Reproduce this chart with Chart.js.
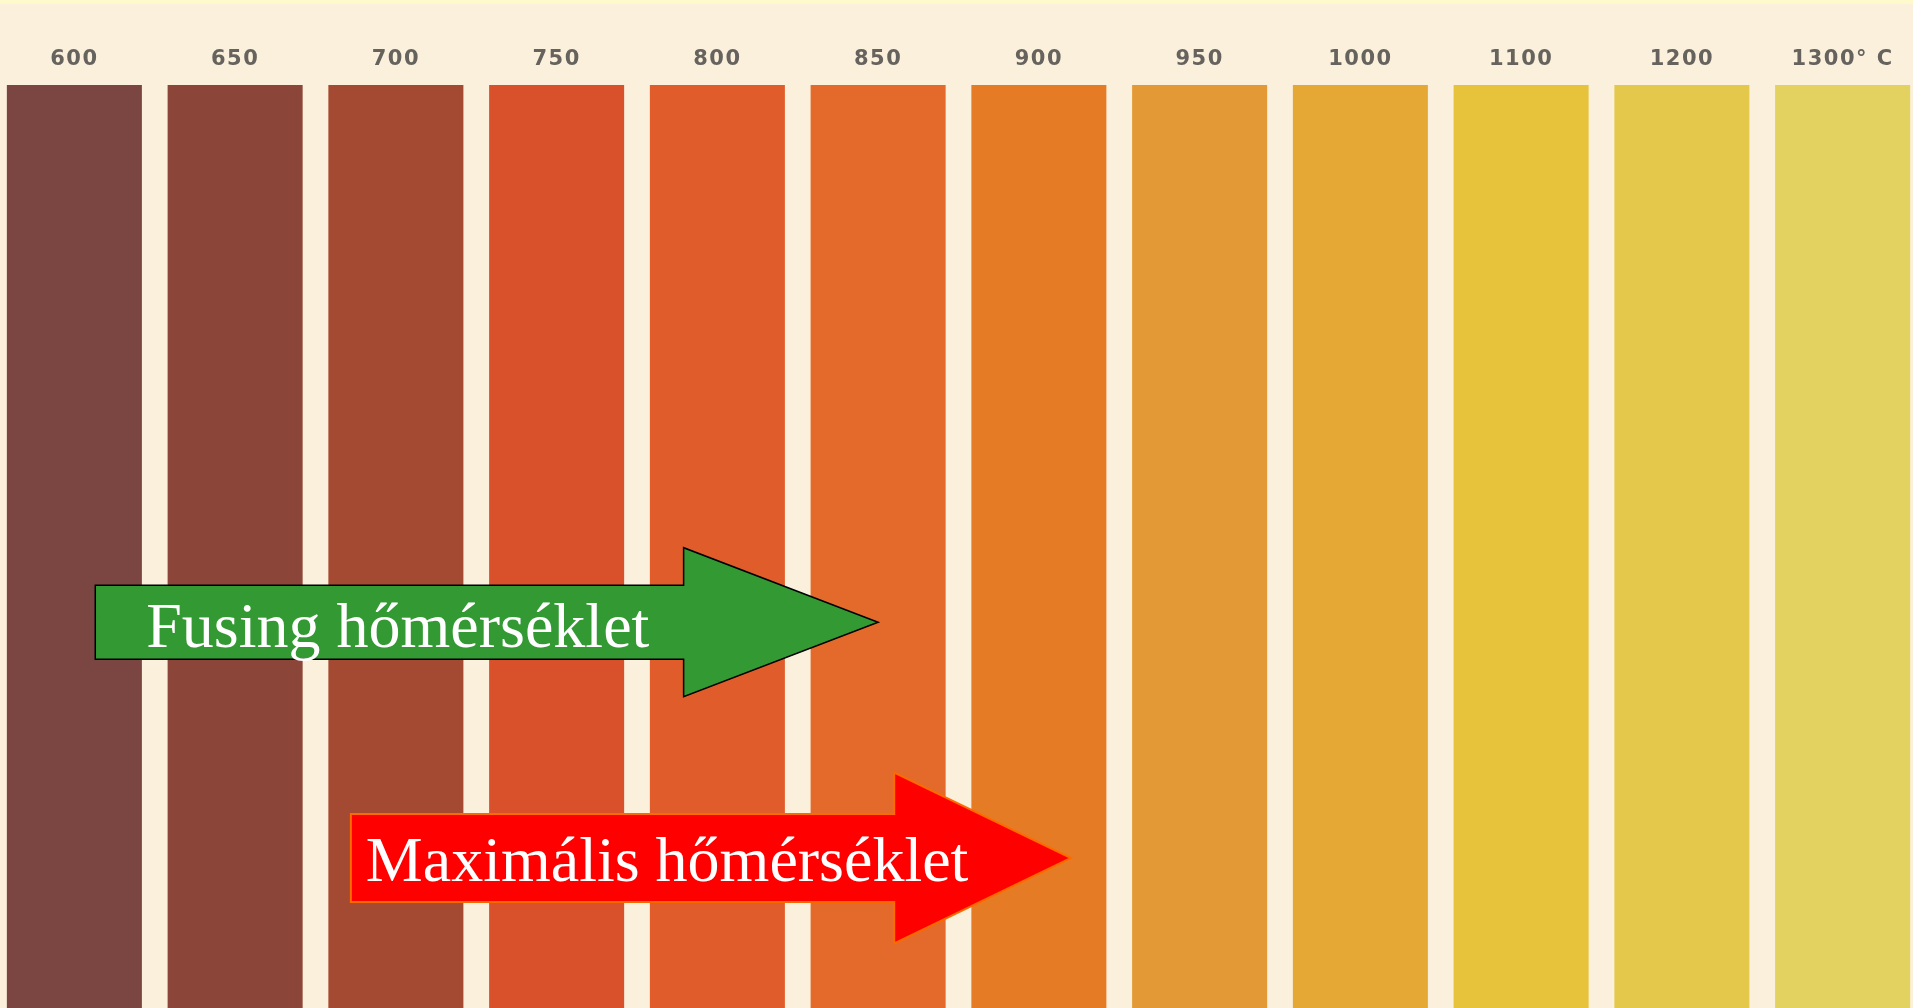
<!DOCTYPE html>
<html>
<head>
<meta charset="utf-8">
<script src="https://cdn.jsdelivr.net/npm/chart.js@4/dist/chart.umd.min.js"></script>
<style>
    html, body { margin: 0; padding: 0; overflow: hidden; background: #fbf0dc; }
    #wrap { position: absolute; left: -6px; top: 0; width: 1929px; height: 1008px; }
</style>
</head>
<body>
<div id="wrap"><canvas id="temp-chart"></canvas></div>
<script>
/* eslint-disable */
const tempLabels = ['600', '650', '700', '750', '800', '850', '900', '950', '1000', '1100', '1200', '1300° C'];
const barValues = [1, 1, 1, 1, 1, 1, 1, 1, 1, 1, 1, 1];
const barColors = [
    '#7b4541', '#8c4539', '#a44a33', '#d8512a', '#e05c2a', '#e36a2b',
    '#e57c25', '#e39935', '#e5a835', '#e6c33b', '#e4c84c', '#e3d160'
];
// arrows: [from category, head base, tip category, y value]
const arrowNotes = [
    { text: 'Fusing hőmérséklet', from: 0.13, base: 3.79, tip: 5.0, y: 0.418, body: 37, head: 74.5, textX: 51, textY: 25, fill: '#339933', stroke: '#000000', lw: 1.5 },
    { text: 'Maximális hőmérséklet', from: 1.72, base: 5.10, tip: 6.2, y: 0.1625, body: 44, head: 85.5, textX: 15, textY: 23, fill: '#ff0000', stroke: '#ff6a00', lw: 2 }
];

const paperBg = {
    id: 'paperBg',
    beforeDraw(chart) {
        const c = chart.ctx;
        c.fillStyle = '#fbf0dc';
        c.fillRect(0, 0, chart.width, chart.height);
        c.fillStyle = '#fffacc';
        c.fillRect(0, 0, chart.width, 4);
        // wider spacing for the printed tick digits
        c.letterSpacing = '1.5px';
    }
};

const arrows = {
    id: 'arrows',
    afterDatasetsDraw(chart) {
        const c = chart.ctx;
        const xs = chart.scales.x, ys = chart.scales.y;
        arrowNotes.forEach(a => {
            const x0 = xs.getPixelForValue(a.from);
            const xb = xs.getPixelForValue(a.base);
            const xt = xs.getPixelForValue(a.tip);
            const yc = ys.getPixelForValue(a.y);
            c.save();
            c.letterSpacing = '0px';
            c.beginPath();
            c.moveTo(x0, yc - a.body);
            c.lineTo(xb, yc - a.body);
            c.lineTo(xb, yc - a.head);
            c.lineTo(xt, yc);
            c.lineTo(xb, yc + a.head);
            c.lineTo(xb, yc + a.body);
            c.lineTo(x0, yc + a.body);
            c.closePath();
            c.fillStyle = a.fill;
            c.fill();
            c.lineWidth = a.lw;
            c.strokeStyle = a.stroke;
            c.stroke();
            c.fillStyle = '#ffffff';
            c.font = "64px 'Liberation Serif'";
            c.textBaseline = 'alphabetic';
            c.fillText(a.text, x0 + a.textX, yc + a.textY);
            c.restore();
        });
    }
};

const ctx = document.getElementById('temp-chart');
new Chart(ctx, {
    type: 'bar',
    data: {
        labels: tempLabels,
        datasets: [{
            data: barValues,
            backgroundColor: barColors,
            borderWidth: 0,
            barPercentage: 0.84,
            categoryPercentage: 1
        }]
    },
    options: {
        responsive: true,
        maintainAspectRatio: false,
        animation: false,
        layout: { padding: 0 },
        plugins: { legend: { display: false }, tooltip: { enabled: false } },
        scales: {
            x: {
                position: 'top',
                grid: { display: false, drawTicks: false },
                border: { display: false },
                ticks: {
                    padding: 13,
                    color: '#66625e',
                    maxRotation: 0,
                    autoSkip: false,
                    font: { family: "'DejaVu Sans'", size: 21, weight: 'bold' }
                },
                afterFit(scale) { scale.height = 85; }
            },
            y: {
                display: false,
                min: 0,
                max: 1
            }
        }
    },
    plugins: [paperBg, arrows]
});
</script>
</body>
</html>
